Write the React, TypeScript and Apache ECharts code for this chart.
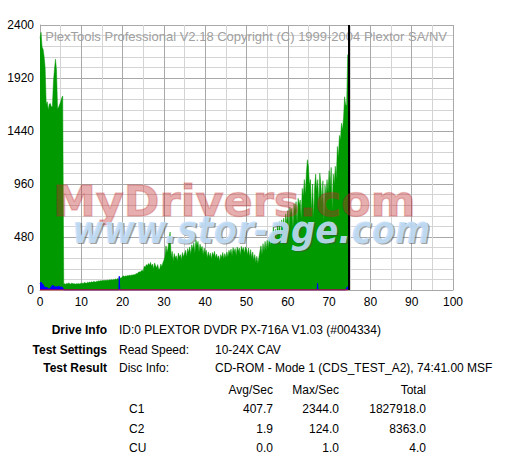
import React, { useEffect, useRef } from "react";
import * as echarts from "echarts";

// ---------- data ----------
const sampleStep = 0.25; // minutes between C1 samples
const c1Values = [
  // 0 - 5.5
  2280, 2334, 2200, 2180, 2113, 2010, 1685, 1705, 1630, 1685, 1690, 1660, 1660, 1887, 2000, 2090, 1990, 1640, 1655, 1680, 1705, 1740, 1757,
  // 5.75 - 19.75
  52, 58, 50, 62, 54, 66, 52, 56, 64, 54, 58, 52, 57, 55, 60, 54, 60, 58, 62, 60, 68, 64, 61, 70, 66, 72, 68, 75, 70, 78, 74, 72, 80, 78, 84, 80, 86, 82, 88, 84, 88, 85, 90, 86, 92, 88, 94, 90, 96, 92, 100, 95, 104, 98, 118, 106, 112,
  // 20 - 29.75
  122, 128, 120, 130, 125, 132, 128, 135, 130, 138, 133, 140, 136, 150, 145, 158, 165, 160, 172, 178, 170, 215, 205, 230, 220, 240, 225, 250, 215, 235, 190, 245, 220, 200, 230, 185, 195, 235, 210, 245,
  // 30 - 49.75
  270, 300, 400, 340, 380, 450, 525, 300, 350, 260, 330, 290, 310, 260, 335, 300, 320, 275, 340, 300,
  330, 360, 300, 375, 340, 390, 320, 410, 370, 425, 330, 455, 400, 440, 345, 415, 370, 395, 320, 380,
  330, 360, 290, 345, 300, 335, 280, 340, 310, 350, 290, 325, 285, 310, 260, 320, 295, 340, 280, 330,
  290, 345, 300, 360, 330, 370, 310, 385, 345, 375, 310, 390, 350, 380, 315, 395, 360, 385, 330, 390,
  // 50 - 59.75
  370, 320, 380, 300, 365, 290, 345, 270, 320, 250, 305, 240, 295, 350, 400, 320, 420, 350, 440, 360,
  450, 380, 470, 400, 500, 420, 575, 460, 550, 470, 600, 500, 620, 420, 635, 560, 650, 540, 690, 600,
  // 60 - 74.75
  720, 520, 750, 690, 740, 560, 780, 720, 800, 600, 830, 770, 815, 640, 920, 850, 1000, 860, 1060, 1180,
  1120, 950, 1000, 700, 960, 650, 930, 1050, 900, 1000, 760, 1060, 960, 800, 990, 620, 950, 850, 1000, 880,
  1080, 930, 1110, 720, 1050, 960, 1120, 1000, 1300, 1200, 1400, 1360, 1510, 1450, 1560, 1750, 1680, 1670, 2130, 2130,
];
const c2Times = [
  0, 0.25, 0.5, 0.75, 1, 1.25, 1.5, 1.75, 2, 2.25, 2.5, 2.75, 3, 3.25, 3.5, 3.75, 4, 4.25, 4.5, 4.75, 5, 5.25, 5.5, 5.75,
  19.1, 19.2, 19.3, 67.1, 67.2, 67.3, 74.0, 74.25, 74.5, 74.65,
];
const c2Values = [
  60, 72, 55, 50, 30, 22, 25, 20, 12, 10, 14, 30, 42, 38, 30, 28, 32, 24, 36, 30, 24, 28, 20, 0,
  0, 124, 0, 0, 60, 0, 0, 20, 30, 20,
];
const cuTimes = [0, 74.68];
const cuValues = [0, 0];
const discEndMinutes = 74.68; // 74:41.00 MSF

const xTickLabels = ["0", "10", "20", "30", "40", "50", "60", "70", "80", "90", "100"];
const yTickLabels = ["0", "480", "960", "1440", "1920", "2400"];

const titleText = "PlexTools Professional V2.18 Copyright (C) 1999-2004 Plextor SA/NV";
const infoLabels = ["Drive Info", "Test Settings", "Test Result"];
const infoCol1 = ["ID:0 PLEXTOR DVDR PX-716A V1.03 (#004334)", "Read Speed:", "Disc Info:"];
const infoCol2 = ["", "10-24X CAV", "CD-ROM - Mode 1 (CDS_TEST_A2), 74:41.00 MSF"];
const statHeaders = ["Avg/Sec", "Max/Sec", "Total"];
const errorNames = ["C1", "C2", "CU"];
const avgPerSec = [407.7, 1.9, 0.0];
const maxPerSec = [2344.0, 124.0, 1.0];
const totals = [1827918.0, 8363.0, 4.0];

const AXIS_FONT = "'Liberation Sans Narrow', 'Liberation Sans', Arial, sans-serif";
const TABLE_FONT = "'Liberation Sans', Arial, sans-serif";

export default function App() {
  const ref = useRef<HTMLDivElement>(null);

  useEffect(() => {
    if (!ref.current) return;
    const chart = echarts.init(ref.current, undefined, { renderer: "svg" });

    const c1Data = c1Values.map((v, i) => [i * sampleStep, v]);
    const c2Data = c2Times.map((t, i) => [t, c2Values[i]]);
    const cuData = cuTimes.map((t, i) => [t, cuValues[i]]);

    const rowY = [330, 350, 368];
    const statRowY = [409, 429, 448];
    const statX = [273, 339, 426];

    const graphics: any[] = [];
    graphics.push({
      type: "text",
      x: 447,
      y: 36,
      z: 5,
      style: { text: titleText, fill: "#a0a0a0", font: `13px ${AXIS_FONT}`, align: "right", verticalAlign: "middle" },
    });
    graphics.push({
      type: "text",
      x: 53,
      y: 222,
      z: 100,
      style: {
        text: "MyDrivers.com",
        fill: "rgba(190,40,40,0.4)",
        stroke: "rgba(190,40,40,0.25)",
        lineWidth: 1.5,
        font: "bold 43px 'DejaVu Sans', sans-serif",
        align: "left",
        verticalAlign: "bottom",
      },
    });
    graphics.push({
      type: "text",
      x: 73.5,
      y: 249.5,
      z: 100,
      scaleX: 0.92,
      style: {
        text: "www.stor-age.com",
        fill: "rgba(70,70,70,0.5)",
        font: "italic bold 37px 'DejaVu Sans', sans-serif",
        align: "left",
        verticalAlign: "bottom",
      },
    });
    graphics.push({
      type: "text",
      x: 72,
      y: 248,
      z: 101,
      scaleX: 0.92,
      style: {
        text: "www.stor-age.com",
        fill: "rgba(195,224,252,0.9)",
        font: "italic bold 37px 'DejaVu Sans', sans-serif",
        align: "left",
        verticalAlign: "bottom",
      },
    });
    infoLabels.forEach((t, i) => {
      graphics.push({
        type: "text",
        x: 107,
        y: rowY[i],
        style: { text: t, fill: "#000", font: `bold 12px ${TABLE_FONT}`, align: "right", verticalAlign: "middle" },
      });
      graphics.push({
        type: "text",
        x: 119,
        y: rowY[i],
        style: { text: infoCol1[i], fill: "#000", font: `12px ${TABLE_FONT}`, align: "left", verticalAlign: "middle" },
      });
      if (infoCol2[i]) {
        graphics.push({
          type: "text",
          x: 215,
          y: rowY[i],
          style: { text: infoCol2[i], fill: "#000", font: `12px ${TABLE_FONT}`, align: "left", verticalAlign: "middle" },
        });
      }
    });
    statHeaders.forEach((t, j) => {
      graphics.push({
        type: "text",
        x: statX[j],
        y: 390,
        style: { text: t, fill: "#000", font: `12px ${TABLE_FONT}`, align: "right", verticalAlign: "middle" },
      });
    });
    errorNames.forEach((n, i) => {
      graphics.push({
        type: "text",
        x: 129,
        y: statRowY[i],
        style: { text: n, fill: "#000", font: `12px ${TABLE_FONT}`, align: "left", verticalAlign: "middle" },
      });
      [avgPerSec[i], maxPerSec[i], totals[i]].forEach((v, j) => {
        graphics.push({
          type: "text",
          x: statX[j],
          y: statRowY[i],
          style: { text: v.toFixed(1), fill: "#000", font: `12px ${TABLE_FONT}`, align: "right", verticalAlign: "middle" },
        });
      });
    });

    chart.setOption({
      animation: false,
      backgroundColor: "#ffffff",
      grid: { left: 40, right: 55, top: 25, bottom: 174, containLabel: false },
      xAxis: {
        type: "value",
        min: 0,
        max: 100,
        interval: 10,
        axisLine: { show: true, lineStyle: { color: "#a8a8a8", width: 1 } },
        axisTick: { show: false },
        axisLabel: {
          color: "#000",
          fontFamily: AXIS_FONT,
          fontSize: 12,
          margin: 6,
          formatter: (v: number) => xTickLabels[Math.round(v / 10)] ?? "",
        },
        splitLine: { show: true, lineStyle: { color: "#a8a8a8", width: 1 } },
        minorTick: { show: false, splitNumber: 2 },
        minorSplitLine: { show: true, lineStyle: { color: "#d4d4d4", width: 1 } },
      },
      yAxis: {
        type: "value",
        min: 0,
        max: 2400,
        interval: 480,
        axisLine: { show: true, lineStyle: { color: "#a8a8a8", width: 1 } },
        axisTick: { show: false },
        axisLabel: {
          color: "#000",
          fontFamily: AXIS_FONT,
          fontSize: 12,
          margin: 6,
          formatter: (v: number) => yTickLabels[Math.round(v / 480)] ?? "",
        },
        splitLine: { show: true, lineStyle: { color: "#a8a8a8", width: 1 } },
        minorTick: { show: false, splitNumber: 5 },
        minorSplitLine: { show: true, lineStyle: { color: "#d4d4d4", width: 1 } },
      },
      series: [
        {
          name: "C1",
          type: "line",
          data: c1Data,
          showSymbol: false,
          symbol: "none",
          lineStyle: { color: "#009900", width: 0.5 },
          areaStyle: { color: "#009900", opacity: 1 },
          z: 2,
          markLine: {
            silent: true,
            symbol: "none",
            label: { show: false },
            lineStyle: { color: "#000000", width: 2, type: "solid" },
            data: [{ xAxis: discEndMinutes }],
          },
        },
        {
          name: "C2",
          type: "line",
          data: c2Data,
          showSymbol: false,
          symbol: "none",
          lineStyle: { color: "#0000ff", width: 1 },
          areaStyle: { color: "#0000ff", opacity: 1 },
          z: 3,
        },
        {
          name: "CU",
          type: "line",
          data: cuData,
          showSymbol: false,
          symbol: "none",
          lineStyle: { color: "#ff0000", width: 1 },
          z: 4,
        },
      ],
      graphic: graphics,
    });

    return () => chart.dispose();
  }, []);

  return (
    <div
      ref={ref}
      style={{ position: "absolute", left: 0, top: 0, width: 508, height: 464 }}
    />
  );
}
